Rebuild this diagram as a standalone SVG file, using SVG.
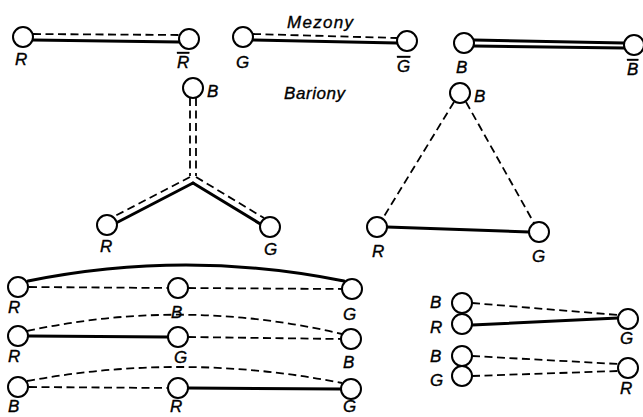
<svg xmlns="http://www.w3.org/2000/svg" width="643" height="417" viewBox="0 0 643 417">
<style>
.n{fill:#fff;stroke:#000;stroke-width:2}
.s{fill:none;stroke:#000;stroke-width:3;stroke-linecap:round}
.d{fill:none;stroke:#000;stroke-width:1.8;stroke-dasharray:8 4.5}
text{font-family:"Liberation Sans",Arial,sans-serif;font-style:italic;font-size:17px;fill:#000;stroke:#000;stroke-width:0.35}
.bar{text-decoration:overline}
</style>
<rect width="643" height="417" fill="#fff"/>
<g id="connectors">
<path class="d" d="M33 34 L179 35"/>
<path class="s" d="M33 40 L179 42"/>
<path class="d" d="M253 34 L397 38"/>
<path class="s" d="M253 40 L397 43"/>
<path class="s" d="M474 40 L624 43"/>
<path class="s" d="M474 46 L624 48"/>
<path class="d" d="M190 98 L190 176"/>
<path class="d" d="M196 98 L196 176"/>
<path class="d" d="M190 177 L115 216"/>
<path class="s" d="M193 183 L116 223"/>
<path class="d" d="M196 177 L264 218"/>
<path class="s" d="M193 183 L262 225"/>
<path class="d" d="M454 102 L383 218"/>
<path class="d" d="M466 102 L534 223"/>
<path class="s" d="M387 227 L529 232"/>
<path class="s" d="M28 281 Q186 249 344 281"/>
<path class="d" d="M29 287 L168 288"/>
<path class="d" d="M188 288 L342 289"/>
<path class="d" d="M27 331 Q185 297 342 334"/>
<path class="s" d="M29 336 L168 337"/>
<path class="d" d="M188 337 L341 339"/>
<path class="d" d="M27 381 Q185 352 342 383"/>
<path class="d" d="M29 387 L168 388"/>
<path class="s" d="M188 388 L341 389"/>
<path class="d" d="M472 303 L618 315"/>
<path class="s" d="M472 325 L618 318"/>
<path class="d" d="M472 356 L618 364"/>
<path class="d" d="M472 376 L618 371"/>
</g>
<g id="mesonR">
<circle class="n" cx="23" cy="37" r="10"/>
<circle class="n" cx="189" cy="39" r="10"/>
<text x="15" y="65">R</text>
<text x="177" y="68" class="bar">R</text>
</g>
<g id="mesonG">
<text x="287" y="28" textLength="66">Mezony</text>
<circle class="n" cx="243" cy="37" r="10"/>
<circle class="n" cx="407" cy="41" r="10"/>
<text x="236" y="68">G</text>
<text x="397" y="72" class="bar">G</text>
</g>
<g id="mesonB">
<circle class="n" cx="464" cy="43" r="10"/>
<circle class="n" cx="634" cy="45" r="10"/>
<text x="456" y="73">B</text>
<text x="627" y="75" class="bar">B</text>
</g>
<g id="baryonY">
<text x="284" y="99" textLength="61">Bariony</text>
<circle class="n" cx="193" cy="88" r="10"/>
<circle class="n" cx="107" cy="225" r="10"/>
<circle class="n" cx="270" cy="227" r="10"/>
<text x="207" y="97">B</text>
<text x="100" y="252">R</text>
<text x="264" y="255">G</text>
</g>
<g id="baryonTriangle">
<circle class="n" cx="460" cy="93" r="10"/>
<circle class="n" cx="377" cy="227" r="10"/>
<circle class="n" cx="539" cy="232" r="10"/>
<text x="474" y="102">B</text>
<text x="372" y="257">R</text>
<text x="532" y="262">G</text>
</g>
<g id="row1">
<circle class="n" cx="18" cy="287" r="10"/>
<circle class="n" cx="178" cy="288" r="10"/>
<circle class="n" cx="352" cy="289" r="10"/>
<text x="8" y="313">R</text>
<text x="171" y="318">B</text>
<text x="343" y="320">G</text>
</g>
<g id="row2">
<circle class="n" cx="18" cy="336" r="10"/>
<circle class="n" cx="178" cy="337" r="10"/>
<circle class="n" cx="351" cy="339" r="10"/>
<text x="8" y="362">R</text>
<text x="174" y="363">G</text>
<text x="343" y="368">B</text>
</g>
<g id="row3">
<circle class="n" cx="18" cy="387" r="10"/>
<circle class="n" cx="178" cy="388" r="10"/>
<circle class="n" cx="351" cy="389" r="10"/>
<text x="8" y="412">B</text>
<text x="170" y="412">R</text>
<text x="343" y="412">G</text>
</g>
<g id="groupBRG">
<circle class="n" cx="462" cy="303" r="10"/>
<circle class="n" cx="462" cy="324" r="10"/>
<circle class="n" cx="628" cy="319" r="10"/>
<text x="430" y="308">B</text>
<text x="430" y="333">R</text>
<text x="620" y="344">G</text>
</g>
<g id="groupBGR">
<circle class="n" cx="462" cy="356" r="10"/>
<circle class="n" cx="462" cy="376" r="10"/>
<circle class="n" cx="628" cy="368" r="10"/>
<text x="430" y="362">B</text>
<text x="430" y="386">G</text>
<text x="620" y="394">R</text>
</g>
</svg>
